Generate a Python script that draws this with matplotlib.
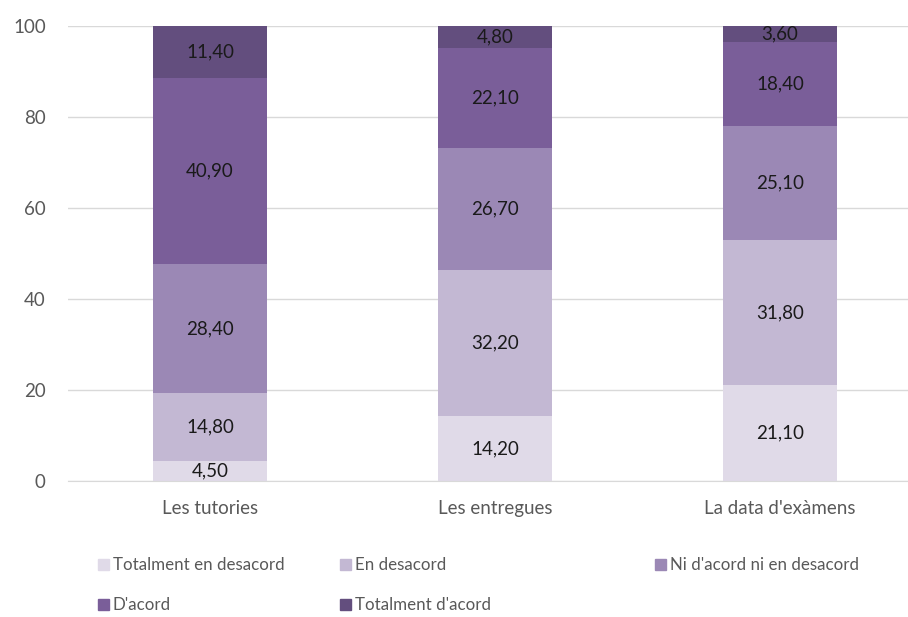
import matplotlib.pyplot as plt
import numpy as np
from matplotlib.patches import Rectangle

plt.rcParams['font.family'] = ['Lato', 'DejaVu Sans']

# data
categories = ["Les tutories", "Les entregues", "La data d'exàmens"]
series = ["Totalment en desacord", "En desacord", "Ni d'acord ni en desacord",
          "D'acord", "Totalment d'acord"]
totalment_desacord = [4.5, 14.2, 21.1]
desacord = [14.8, 32.2, 31.8]
ni_ni = [28.4, 26.7, 25.1]
acord = [40.9, 22.1, 18.4]
totalment_acord = [11.4, 4.8, 3.6]
yticks = [0, 20, 40, 60, 80, 100]

values = [totalment_desacord, desacord, ni_ni, acord, totalment_acord]
colors = ["#E0DAE8", "#C3B8D3", "#9B88B5", "#7A5E99", "#634E7E"]

fig = plt.figure(figsize=(9.08, 6.17), dpi=100)
ax = fig.add_axes([68/908, (617-481)/617, 840/908, 455/617])

x = np.arange(len(categories))
bottom = np.zeros(len(categories))
for name, vals, c in zip(series, values, colors):
    vals = np.array(vals)
    ax.bar(x, vals, width=0.397, bottom=bottom, color=c, label=name, zorder=3)
    for xi, b, v in zip(x, bottom, vals):
        ax.text(xi, b + v/2, f"{v:.2f}".replace(".", ","), ha="center", va="center",
                fontsize=13.5, color="#1a1a1a", zorder=4)
    bottom += vals

ax.set_xlim(-0.498, 2.449)
ax.set_ylim(0, 100)
ax.set_yticks(yticks)
ax.set_xticks(x)
ax.set_xticklabels(categories)
ax.tick_params(length=0, labelsize=13.5, colors="#595959")
ax.tick_params(axis="x", pad=14)
ax.tick_params(axis="y", pad=16)
ax.grid(axis="y", color="#D9D9D9", lw=1, zorder=0)
for s in ["top", "right", "left"]:
    ax.spines[s].set_visible(False)
ax.spines["bottom"].set_color("#D9D9D9")
ax.spines["bottom"].set_zorder(5)

# legend, placed like the original
leg_pos = [(98, 565), (340, 565), (655, 565), (98, 605), (340, 605)]
for (px, py), name, c in zip(leg_pos, series, colors):
    fig.patches.append(Rectangle((px/908, (617-py-5)/617), 11/908, 11/617,
                                 transform=fig.transFigure, color=c))
    fig.text((px+15)/908, (617-py)/617, name, fontsize=12.2, color="#595959", va="center")

fig.savefig("out.png", dpi=100)
